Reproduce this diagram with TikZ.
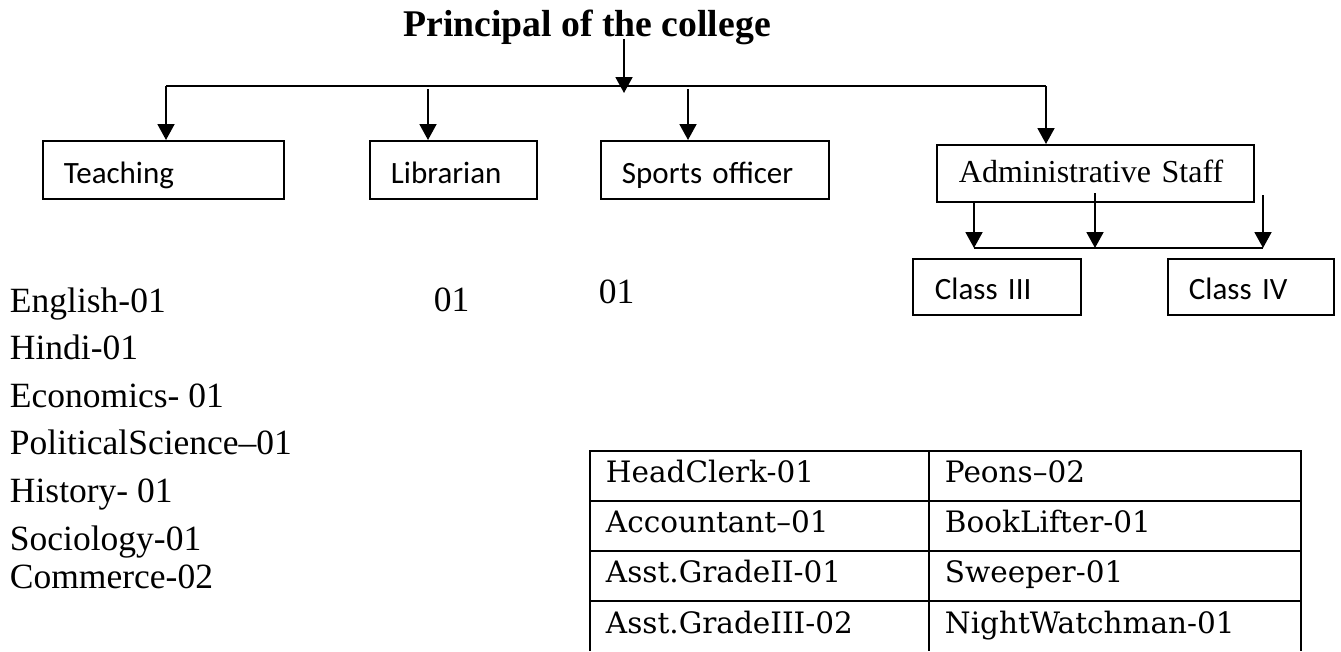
\documentclass[tikz,border=0pt]{standalone}
\usepackage{fontspec}
\setmainfont{Liberation Serif}
\newfontfamily\calibrifont{Carlito}
\newfontfamily\tablefont{DejaVu Serif}
\usetikzlibrary{arrows.meta,calc}

\begin{document}
\begin{tikzpicture}[x=1pt,y=-1pt,>={Triangle[length=16pt,width=17pt]},line width=1.9pt,
  post/.style={draw,anchor=north west,inner xsep=21pt,inner ysep=0pt,align=left,
    font=\calibrifont\fontsize{31}{37}\selectfont,text height=28pt,text depth=0pt},
  entry/.style={anchor=base west,inner sep=0pt,font=\fontsize{35.5}{41}\selectfont},
  cell/.style={anchor=base west,inner sep=0pt,font=\tablefont\fontsize{29.5}{35}\selectfont}]
  \useasboundingbox (0,0) rectangle (1341,651);
  \node (prin) at (587,36) [anchor=base,inner sep=0pt,font=\bfseries\fontsize{37.7}{44}\selectfont]{Principal of the college};
  % first level
  \node (teach) at (42,140) [post,minimum height=58pt,text width=199pt]{Teaching};
  \node (lib) at (369,140) [post,minimum height=58pt,text width=125pt]{Librarian};
  \node (sport) at (600,140) [post,minimum height=58pt,text width=186pt]{Sports officer};
  \node (admin) at (936,144) [post,minimum height=57pt,text width=273pt,inner xsep=22pt,
    font=\fontsize{32}{38}\selectfont,text height=19pt]{Administrative Staff};
  % second level
  \node (cthree) at (912,258) [post,minimum height=56pt,text width=124pt,inner xsep=22pt,text height=25pt]{Class III};
  \node (cfour) at (1167,258) [post,minimum height=56pt,text width=124pt,inner xsep=21pt,text height=25pt]{Class IV};
  % connectors
  \coordinate (ptop) at (624,39);
  \coordinate (pbot) at (624,93);
  \coordinate (busL) at (166,86);
  \coordinate (busR) at (1046,86);
  \coordinate (libtop) at (428,89);
  \coordinate (sporttop) at (688,89);
  \draw[->] (ptop) -- (pbot);
  \draw (busL) -- (busR);
  \draw[->] (busL) -- (busL |- teach.north);
  \draw[->] (libtop) -- (libtop |- lib.north);
  \draw[->] (sporttop) -- (sporttop |- sport.north);
  \draw[->] (busR) -- (busR |- admin.north);
  \foreach \n/\x/\y in {1/974/201,2/1095/193,3/1263/195}
  {
    \coordinate (a\n) at (\x,\y);
    \coordinate (s\n) at (\x,248);
    \draw[->] (a\n) -- (s\n);
  }
  \draw (s1) -- (s3);
  % teaching staff
  \foreach \t/\y [count=\i] in {English-01/312,Hindi-01/359,Economics- 01/407,PoliticalScience–01/454,History- 01/502,Sociology-01/550,Commerce-02/588}
  {
    \node (subj\i) at (9,\y) [entry]{\t};
  }
  \node (libnum) at (433,311) [entry]{01};
  \node (sportnum) at (598,303) [entry]{01};
  % table of class III / class IV posts
  \draw (590,651) |- (1301,451) -- (1301,651);
  \draw (929,451) -- (929,651);
  \foreach \y in {501,551,601}
    \draw (590,\y) -- (1301,\y);
  \foreach \l/\r/\y [count=\i] in {HeadClerk-01/Peons–02/482,Accountant–01/BookLifter-01/532,Asst.GradeII-01/Sweeper-01/582,Asst.GradeIII-02/NightWatchman-01/633}
  {
    \node (left\i) at (605,\y) [cell]{\l};
    \node (right\i) at (944,\y) [cell]{\r};
  }
\end{tikzpicture}
\end{document}
